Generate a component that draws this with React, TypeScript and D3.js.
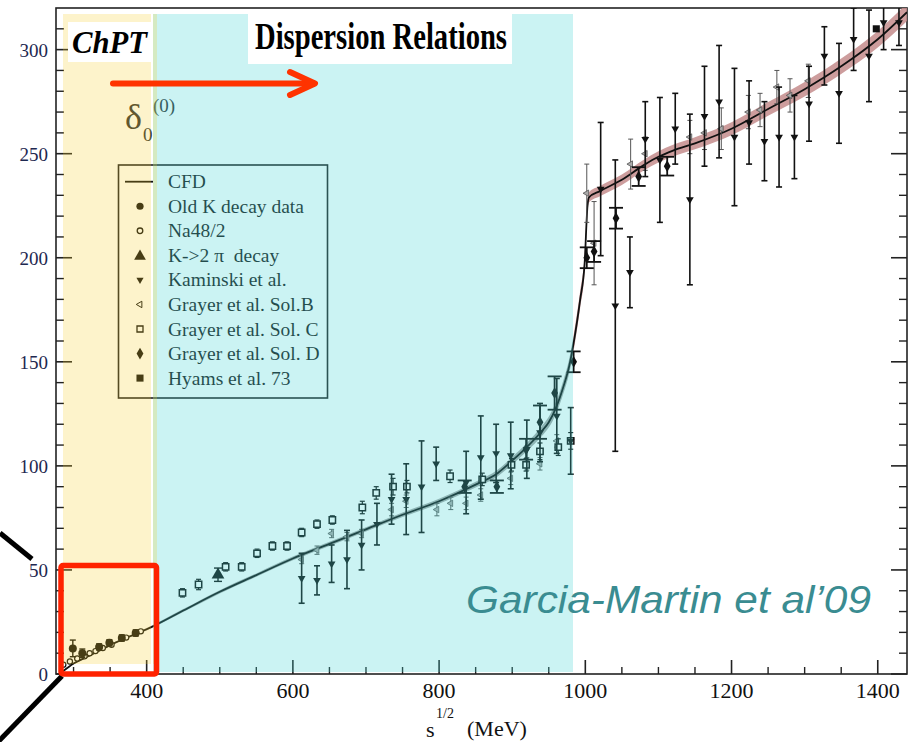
import React from 'react';
import * as d3 from 'd3';

// ---------- data (MeV, degrees) ----------
const cfdMass = [280, 290, 300, 320, 340, 360, 380, 400, 450, 500, 550, 600, 650, 700, 750, 800, 850, 880, 900, 920, 940, 950, 960, 970, 978, 984, 993, 999, 1003, 1005, 1020, 1050, 1080, 1100, 1120, 1150, 1200, 1250, 1300, 1350, 1400, 1440];
const cfdPhase = [0, 2.5, 5, 8.5, 12, 15.5, 18.5, 21.5, 30.5, 39.5, 47.5, 55.5, 62.5, 69.5, 76.5, 83, 91, 96.5, 102.5, 109, 116.5, 121, 128, 138, 148, 159, 180, 197, 225, 229, 232, 237.5, 244.5, 248.5, 251.5, 255, 262, 271.5, 281, 292, 305, 318];
const cfdBand = [0.3, 0.3, 0.3, 0.4, 0.5, 0.5, 0.5, 0.6, 0.7, 0.8, 0.8, 0.9, 1, 1, 1.1, 1.2, 1.4, 1.6, 1.8, 2, 2.4, 2.6, 2.9, 3.2, 3.5, 3.8, 4, 4, 3, 2.5, 2.5, 2.5, 2.6, 2.7, 2.8, 2.9, 3.1, 3.3, 3.5, 3.7, 4, 4.3];

// [mass, phase, error]
const oldKDecay = [[299, 12.3, 4], [312, 10, 2], [335, 13, 1.5], [349, 15, 1.5], [366, 17.3, 1.5], [385, 19.7, 1.5]];
const na48 = [[286, 4.5], [295, 6], [305, 7.5], [315, 8.5], [322, 10], [330, 11], [340, 12.5], [352, 14], [372, 17.5], [392, 20.5]];
const k2pi = [[497.6, 47.7, 3.2]];
const kaminski = [
  [612, 46, 12], [633, 45, 7], [653, 53, 9], [674, 55, 14], [694, 62, 12], [715, 72, 10], [735, 84, 12], [755, 84, 17],
  [776, 90, 22], [796, 101, 8], [837, 92, 15], [857, 104, 20], [878, 106, 14], [898, 105, 16], [920, 108, 14], [938, 116, 14],
  [961, 124, 18], [980, 112, 16], [1021, 233, 32], [1041, 177, 70], [1061, 193, 17], [1082, 257, 18], [1102, 247, 30],
  [1123, 262, 17], [1143, 228, 41], [1163, 268, 24], [1183, 275, 27], [1204, 258, 33], [1224, 265, 20], [1245, 256, 19],
  [1265, 258, 24], [1286, 258, 20], [1306, 274, 18], [1327, 297, 14], [1347, 279, 24], [1367, 305, 15], [1388, 297, 22],
  [1408, 313, 13], [1429, 313, 11]
];
const grayerB = [
  [612, 55, 2], [633, 59.5, 2], [653, 67.5, 2], [674, 66, 2], [694, 67.5, 2], [735, 79, 3], [755, 83, 3], [797, 79, 3],
  [816, 82, 3], [837, 82, 3], [857, 86, 3], [898, 94, 3], [920, 101, 3], [938, 101, 3], [961, 112, 3],
  [1002, 231, 14], [1012, 207, 20], [1062, 245, 12], [1082, 250, 8], [1143, 258, 8], [1163, 260, 8], [1186, 262, 10],
  [1223, 270, 8], [1239, 271, 8], [1262, 282, 8], [1280, 278, 8], [1305, 285, 8]
];
const grayerC = [
  [449, 39, 2], [471, 43, 2.5], [508, 51.5, 2], [530, 51.5, 2], [551, 58, 2], [572, 61.5, 2], [592, 61.5, 2], [612, 68, 2],
  [633, 72, 2], [654, 74, 2], [695, 80, 3], [714, 87, 3], [737, 90, 4], [756, 90, 3], [815, 95, 3], [859, 93.5, 3],
  [899, 100.5, 3], [919, 100.5, 3], [938, 107, 4], [963, 109, 4], [980, 112, 4]
];
const grayerD = [
  [835, 90, 3], [879, 90, 3], [919, 108, 5], [938, 121, 8], [958, 135, 8], [984, 150, 5], [1002, 200, 5], [1012, 203, 5],
  [1042, 219, 5], [1073, 239, 4.5], [1112, 244, 4.5]
];
const hyams = [[1398, 310, 2]];

const xTickMajor = [400, 600, 800, 1000, 1200, 1400];
const yTickMajor = [0, 50, 100, 150, 200, 250, 300];
const legendLabels = ['CFD', 'Old K decay data', 'Na48/2', 'K->2 \u03c0  decay', 'Kaminski et al.', 'Grayer et al. Sol.B', 'Grayer et al. Sol. C', 'Grayer et al. Sol. D', 'Hyams et al. 73'];

// ---------- layout ----------
const W = 917, H = 742;
const L = 56, R = 907, T = 8, B = 674;

const sym = (type: any, size: number) => d3.symbol().type(type).size(size)() as string;

export default function App() {
  const x = d3.scaleLinear().domain([276, 1440]).range([L, R]);
  const y = d3.scaleLinear().domain([0, 320]).range([B, T]);

  const curve = cfdMass.map((m, i) => ({ m, d: cfdPhase[i], e: cfdBand[i] }));
  const line = d3.line<any>().x(p => x(p.m)).y(p => y(p.d)).curve(d3.curveMonotoneX);
  const area = d3.area<any>().x(p => x(p.m)).y0(p => y(p.d - p.e)).y1(p => y(p.d + p.e)).curve(d3.curveMonotoneX);
  const lowPart = curve.filter(p => p.m <= 984);
  const highPart = curve.filter(p => p.m >= 984);

  const err = (m: number, d: number, e: number, cap: number, key: string, color = '#111', sw = 1.4) => (
    <g key={key} stroke={color} strokeWidth={sw}>
      <line x1={x(m)} x2={x(m)} y1={y(d - e)} y2={y(d + e)} />
      <line x1={x(m) - cap / 2} x2={x(m) + cap / 2} y1={y(d - e)} y2={y(d - e)} />
      <line x1={x(m) - cap / 2} x2={x(m) + cap / 2} y1={y(d + e)} y2={y(d + e)} />
    </g>
  );

  const leftMinor = d3.range(10, 320, 10).filter(v => v % 50 !== 0);
  const bottomMinor = d3.range(300, 1440, 50).filter(v => v % 200 !== 0);

  const tri = sym(d3.symbolTriangle, 26);
  const triSmall = sym(d3.symbolTriangle, 18);
  const sq = sym(d3.symbolSquare, 40);
  const dia = sym(d3.symbolDiamond, 40);
  const legY = (i: number) => 181.7 + i * 24.55;

  return (
    <svg width={W} height={H} style={{ position: 'absolute', left: 0, top: 0, background: '#fff' }} fontFamily="'Liberation Serif', 'Times New Roman', serif">
      <defs>
        <clipPath id="plotClip">
          <rect x={L} y={T} width={R - L} height={B - T} />
        </clipPath>
      </defs>
      <rect x={0} y={0} width={W} height={H} fill="#fff" />

      {/* frame */}
      <rect x={L} y={T} width={R - L} height={B - T} fill="none" stroke="#222" strokeWidth={1.6} />
      {yTickMajor.map(v => (
        <g key={'ym' + v} stroke="#222" strokeWidth={1.6}>
          <line x1={L} x2={L + 16} y1={y(v)} y2={y(v)} />
          <line x1={R} x2={R - 16} y1={y(v)} y2={y(v)} />
        </g>
      ))}
      {leftMinor.map(v => (
        <g key={'yn' + v} stroke="#222" strokeWidth={1.4}>
          <line x1={L} x2={L + 8} y1={y(v)} y2={y(v)} />
          <line x1={R} x2={R - 8} y1={y(v)} y2={y(v)} />
        </g>
      ))}
      {xTickMajor.map(v => (
        <line key={'xm' + v} x1={x(v)} x2={x(v)} y1={B} y2={B - 14} stroke="#222" strokeWidth={1.6} />
      ))}
      {bottomMinor.map(v => (
        <line key={'xn' + v} x1={x(v)} x2={x(v)} y1={B} y2={B - 7} stroke="#222" strokeWidth={1.4} />
      ))}

      <g clipPath="url(#plotClip)">
        {/* CFD band and curve */}
        <path d={area(lowPart) as string} fill="#8c8c8c" opacity={0.75} />
        <path d={area(highPart) as string} fill="#c48c8c" opacity={0.85} />
        <path d={line(curve) as string} fill="none" stroke="#111" strokeWidth={1.8} />

        {/* Grayer B */}
        {grayerB.map((p, i) => err(p[0], p[1], p[2], 5, 'gbE' + i, '#555', 1))}
        {grayerB.map((p, i) => (
          <path key={'gb' + i} d={triSmall} transform={`translate(${x(p[0])},${y(p[1])}) rotate(-90)`} fill="#aaa" stroke="#555" strokeWidth={0.8} />
        ))}
        {/* Grayer C */}
        {grayerC.map((p, i) => err(p[0], p[1], p[2], 5, 'gcE' + i, '#111', 1.2))}
        {grayerC.map((p, i) => (
          <path key={'gc' + i} d={sq} transform={`translate(${x(p[0])},${y(p[1])})`} fill="#fff" stroke="#111" strokeWidth={1.5} />
        ))}
        {/* Kaminski */}
        {kaminski.map((p, i) => err(p[0], p[1], p[2], 6, 'kE' + i, '#111', 1.6))}
        {kaminski.map((p, i) => (
          <path key={'k' + i} d={tri} transform={`translate(${x(p[0])},${y(p[1])}) rotate(180)`} fill="#111" />
        ))}
        {/* Grayer D */}
        {grayerD.map((p, i) => err(p[0], p[1], p[2], 14, 'gdE' + i, '#111', 1.8))}
        {grayerD.map((p, i) => (
          <path key={'gd' + i} d={dia} transform={`translate(${x(p[0])},${y(p[1])})`} fill="#111" />
        ))}
        {/* Hyams */}
        {hyams.map((p, i) => (
          <path key={'hy' + i} d={sym(d3.symbolSquare, 50)} transform={`translate(${x(p[0])},${y(p[1])})`} fill="#111" />
        ))}
        {/* Na48/2 */}
        {na48.map((p, i) => (
          <circle key={'na' + i} cx={x(p[0])} cy={y(p[1])} r={2.6} fill="#fff" stroke="#111" strokeWidth={1.2} />
        ))}
        {/* Old K decay */}
        {oldKDecay.map((p, i) => err(p[0], p[1], p[2], 6, 'okE' + i, '#111', 1.4))}
        {oldKDecay.map((p, i) => (
          <circle key={'ok' + i} cx={x(p[0])} cy={y(p[1])} r={4} fill="#111" />
        ))}
        {/* K -> 2 pi */}
        {k2pi.map((p, i) => err(p[0], p[1], p[2], 8, 'kpE' + i, '#111', 1.4))}
        {k2pi.map((p, i) => (
          <path key={'kp' + i} d={sym(d3.symbolTriangle, 70)} transform={`translate(${x(p[0])},${y(p[1])})`} fill="#111" />
        ))}
      </g>

      {/* legend */}
      <rect x={118.5} y={165} width={209} height={233} fill="none" stroke="#222" strokeWidth={1.6} />
      {legendLabels.map((lab, i) => (
        <text key={'lt' + i} x={168} y={legY(i) + 6.5} fontSize={19.5} fill="#1a1a1a" style={{ whiteSpace: 'pre' }}>{lab}</text>
      ))}
      <line x1={125} x2={153} y1={legY(0)} y2={legY(0)} stroke="#111" strokeWidth={1.8} />
      <circle cx={140} cy={legY(1)} r={3.6} fill="#111" />
      <circle cx={140} cy={legY(2)} r={2.8} fill="#fff" stroke="#111" strokeWidth={1.3} />
      <path d={sym(d3.symbolTriangle, 60)} transform={`translate(140,${legY(3) + 1})`} fill="#111" />
      <path d={sym(d3.symbolTriangle, 22)} transform={`translate(140,${legY(4)}) rotate(180)`} fill="#111" />
      <path d={sym(d3.symbolTriangle, 18)} transform={`translate(140,${legY(5)}) rotate(-90)`} fill="#fff" stroke="#111" strokeWidth={1} />
      <path d={sym(d3.symbolSquare, 36)} transform={`translate(140,${legY(6)})`} fill="#fff" stroke="#111" strokeWidth={1.3} />
      <path d={sym(d3.symbolDiamond, 40)} transform={`translate(140,${legY(7)})`} fill="#111" />
      <path d={sym(d3.symbolSquare, 50)} transform={`translate(140,${legY(8)})`} fill="#111" />

      {/* delta label */}
      <text x={125} y={129} fontSize={36} fill="#333">δ</text>
      <text x={143} y={141} fontSize={19} fill="#333">0</text>
      <text x={153} y={112} fontSize={19} fill="#333">(0)</text>

      {/* translucent region overlays */}
      <rect x={63} y={14} width={88} height={650} fill="#F7CD27" opacity={0.24} />
      <rect x={153} y={14} width={420} height={658} fill="#41D3D3" opacity={0.275} />
      <rect x={153} y={14} width={4} height={650} fill="#F7CD27" opacity={0.24} />

      {/* labels on white */}
      <rect x={68} y={22} width={83} height={40} fill="#fff" />
      <text x={72} y={53} fontSize={32} fontWeight="bold" fontStyle="italic" textLength={75} lengthAdjust="spacingAndGlyphs" fill="#000">ChPT</text>
      <rect x={248} y={14} width={264} height={50} fill="#fff" />
      <text x={255} y={49} fontSize={37} fontWeight="bold" textLength={252} lengthAdjust="spacingAndGlyphs" fill="#000">Dispersion Relations</text>

      {/* red arrow */}
      <g stroke="#FF3300" strokeWidth={6} strokeLinecap="round" fill="none">
        <line x1={113} y1={83.5} x2={313} y2={83.5} />
        <polyline points="290,72 315,83.5 290,95" strokeLinejoin="round" />
      </g>

      {/* zoom indicator lines */}
      <g stroke="#000" strokeWidth={5}>
        <line x1={0} y1={533} x2={32} y2={559} />
        <line x1={62} y1={676} x2={-5} y2={745} />
      </g>
      <rect x={61} y={565.5} width={95.5} height={108.5} fill="none" stroke="#FF2200" strokeWidth={5.5} rx={2} />

      <text x={466} y={613} fontSize={39} fontStyle="italic" fontFamily="'Liberation Sans', Arial, sans-serif" fill="#3a8c91" textLength={405} lengthAdjust="spacingAndGlyphs">Garcia-Martin et al’09</text>

      {/* tick labels */}
      {yTickMajor.map(v => (
        <text key={'yl' + v} x={48} y={y(v) + 7} fontSize={19} textAnchor="end" fill="#1e2850">{v}</text>
      ))}
      {xTickMajor.map(v => (
        <text key={'xl' + v} x={x(v)} y={698} fontSize={22} textAnchor="middle" fill="#111">{v}</text>
      ))}
      <text x={426} y={737} fontSize={22} fill="#111">s</text>
      <text x={436} y={718} fontSize={14} fill="#111">1/2</text>
      <text x={467} y={736} fontSize={22} fill="#111">(MeV)</text>
    </svg>
  );
}
